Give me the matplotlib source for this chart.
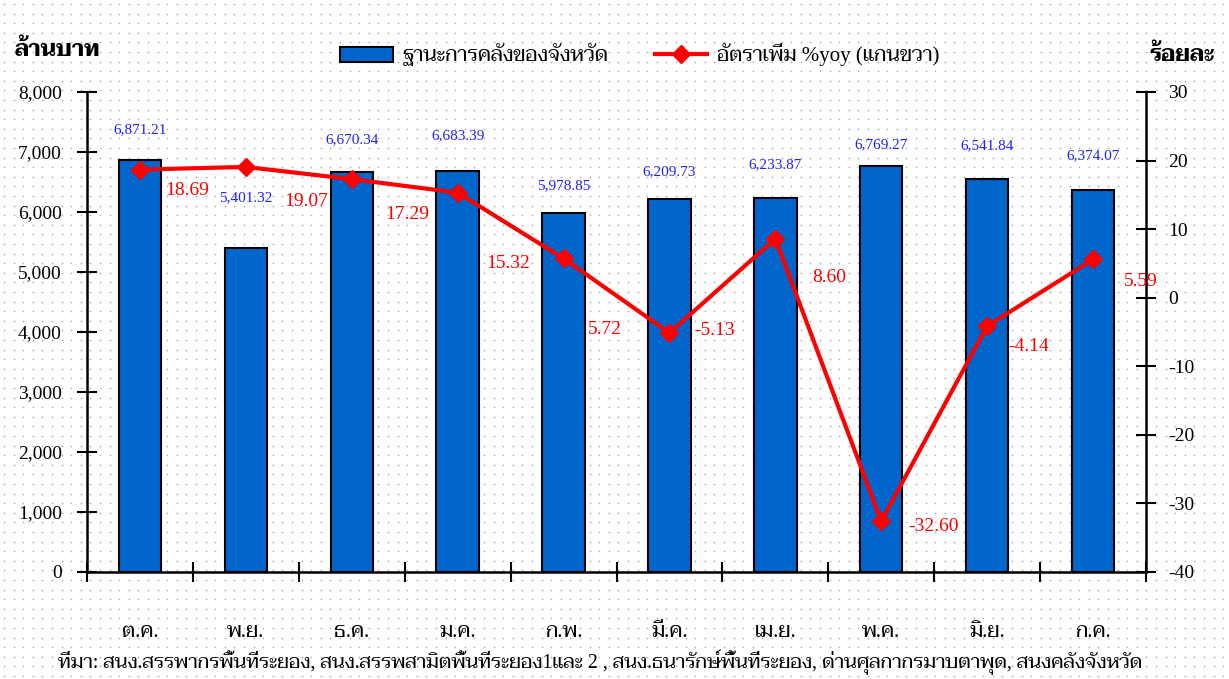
import matplotlib
matplotlib.use('Agg')
import matplotlib.pyplot as plt
from matplotlib import font_manager
from matplotlib.ft2font import FT2Font
from matplotlib.lines import Line2D
from matplotlib.patches import Patch
import numpy as np

### Data
months = ['ต.ค.', 'พ.ย.', 'ธ.ค.', 'ม.ค.', 'ก.พ.', 'มี.ค.', 'เม.ย.', 'พ.ค.', 'มิ.ย.', 'ก.ค.']
treasury = [6871.21, 5401.32, 6670.34, 6683.39, 5978.85, 6209.73, 6233.87, 6769.27, 6541.84, 6374.07]
yoy = [18.69, 19.07, 17.29, 15.32, 5.72, -5.13, 8.60, -32.60, -4.14, 5.59]

bar_name = 'ฐานะการคลังของจังหวัด'
line_name = 'อัตราเพิ่ม %yoy (แกนขวา)'
left_unit = 'ล้านบาท'
right_unit = 'ร้อยละ'
source = ('ที่มา: สนง.สรรพากรพื้นที่ระยอง, สนง.สรรพสามิตพื้นที่ระยอง1และ 2 , '
          'สนง.ธนารักษ์พื้นที่ระยอง, ด่านศุลกากรมาบตาพุด, สนงคลังจังหวัด')

# label offsets in pixels (dx, dy), placed by hand like the original
bar_lab_dy = [30, 50, 32, 35, 28, 28, 33, 21, 34, 34]
yoy_lab_off = [(47, -21), (60, -35), (55, -35), (51, -71), (41, -71),
               (45, 2), (54, -39), (52, -5), (41, -20), (48, -22)]

### Fonts: digits in a Times-like serif, Thai from whatever serif Thai font is around
thai_fonts = []
for f in font_manager.fontManager.ttflist:
    try:
        cmap = FT2Font(f.fname).get_charmap()
    except Exception:
        continue
    if 0x0E01 in cmap and f.name not in thai_fonts:
        thai_fonts.append(f.name)

preferred = ['Taviraj', 'Trirong', 'Noto Serif Thai', 'Sarabun']
thai_pick = [n for n in preferred if n in thai_fonts] + [n for n in thai_fonts if n not in preferred]

plt.rcParams['font.family'] = ['Liberation Serif'] + thai_pick[:1] + ['DejaVu Sans']

fig = plt.figure(figsize=(12.29, 6.79), dpi=100)

# dotted background
bg = fig.add_axes([0, 0, 1, 1], zorder=-10)
gx, gy = np.meshgrid(np.arange(4, 1229, 9.6), np.arange(4, 679, 9.6))
bg.scatter(gx.ravel(), gy.ravel(), s=1.5, c='#b0b0b0', linewidths=0)
bg.set_xlim(0, 1229)
bg.set_ylim(679, 0)
bg.axis('off')

ax = fig.add_axes([87/1229, 107/679, 1059/1229, 480/679])
ax.patch.set_alpha(0)
x = np.arange(len(months))

ax.bar(x, treasury, width=0.4, color='#0066cc', edgecolor='black', linewidth=1.5, zorder=2)
ax.set_xlim(-0.5, len(months) - 0.5)
ax.set_ylim(0, 8000)
ax.set_yticks(np.arange(0, 8001, 1000))
ax.set_yticklabels([f'{v:,}' for v in range(0, 8001, 1000)], fontsize=14)
ax.set_xticks(np.arange(-0.5, len(months), 1))
ax.set_xticklabels([])
ax.set_xticks(x, minor=True)
ax.set_xticklabels(months, minor=True, fontsize=15)
ax.tick_params(axis='x', which='minor', length=0, pad=37)
ax.tick_params(axis='x', which='major', direction='inout', length=14, width=1.5)
ax.tick_params(axis='y', direction='inout', length=14, width=1.5, pad=11)
for s in ['top', 'right']:
    ax.spines[s].set_visible(False)
ax.spines['left'].set_linewidth(1.8)
ax.spines['bottom'].set_linewidth(1.8)

for i, v in enumerate(treasury):
    ax.annotate(f'{v:,.2f}', (x[i], v), xytext=(0, bar_lab_dy[i] * 0.72),
                textcoords='offset points', ha='center', va='center',
                color='#2020ff', fontsize=11)

ax2 = ax.twinx()
ax2.patch.set_alpha(0)
ax2.plot(x, yoy, color='red', linewidth=3, marker='D', markersize=9, zorder=3)
ax2.set_ylim(-40, 30)
ax2.set_yticks(np.arange(-40, 31, 10))
ax2.set_yticklabels([str(v) for v in range(-40, 31, 10)], fontsize=14)
ax2.tick_params(axis='y', direction='inout', length=14, width=1.5, pad=9)
for s in ['top', 'left', 'bottom']:
    ax2.spines[s].set_visible(False)
ax2.spines['right'].set_linewidth(1.8)

for i, v in enumerate(yoy):
    dx, dy = yoy_lab_off[i]
    ax2.annotate(f'{v:.2f}', (x[i], v), xytext=(dx * 0.72, dy * 0.72),
                 textcoords='offset points', ha='center', va='center',
                 color='red', fontsize=14)

fig.text(15/1229, 1 - 50/679, left_unit, fontsize=16, fontweight='bold', ha='left', va='center')
fig.text(1150/1229, 1 - 55/679, right_unit, fontsize=16, fontweight='bold', ha='left', va='center')

handles = [Patch(facecolor='#0066cc', edgecolor='black', linewidth=1.5),
           Line2D([0], [0], color='red', linewidth=3, marker='D', markersize=9)]
fig.legend(handles, [bar_name, line_name], loc='center', bbox_to_anchor=(640/1229, 1 - 55/679),
           ncol=2, frameon=False, fontsize=15, handlelength=2.5, handletextpad=0.5,
           columnspacing=2.2)

fig.text(58/1229, 1 - 662/679, source, fontsize=14.3, ha='left', va='center')

fig.savefig('out.png', dpi=100)
